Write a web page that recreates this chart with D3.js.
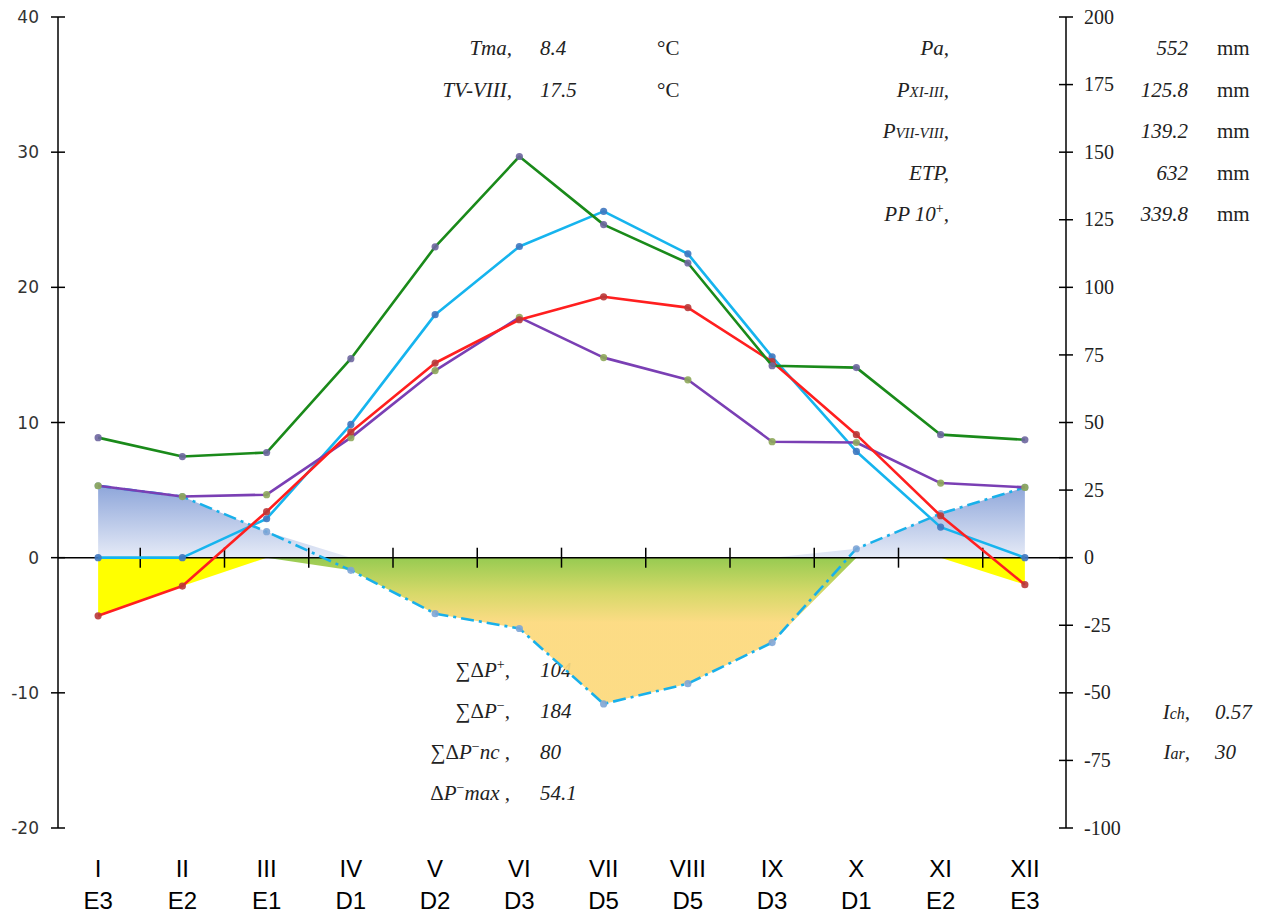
<!DOCTYPE html>
<html lang="ro">
  <head>
    <meta charset="UTF-8">
    <title>Climate diagram</title>
    <style>
body{
    margin: 0;
    background: #fff;
}
svg{
    display: block;
}
.serif{
    font-family: "Liberation Serif", "Times New Roman", Times, "DejaVu Serif", serif;
}
    </style>
  </head>
  <body>
    <script src="https://cdn.jsdelivr.net/npm/d3@7/dist/d3.min.js" charset="UTF-8"></script>
    <script>
// data
var months = ["I", "II", "III", "IV", "V", "VI", "VII", "VIII", "IX", "X", "XI", "XII"];
var classes = ["E3", "E2", "E1", "D1", "D2", "D3", "D5", "D5", "D3", "D1", "E2", "E3"];
var temp = [-4.3, -2.1, 3.4, 9.3, 14.4, 17.6, 19.3, 18.5, 14.5, 9.1, 3.1, -2.0];      // degC, left axis
var precip = [26.6, 22.6, 23.3, 44.4, 69.2, 88.9, 74.0, 65.8, 42.9, 42.6, 27.6, 26.0];  // mm
var etp = [0, 0, 14.4, 49.3, 89.9, 115.1, 128.1, 112.4, 74.3, 39.3, 11.3, 0];          // mm
var green = [44.4, 37.4, 38.9, 73.6, 115.0, 148.4, 123.2, 109.0, 71.0, 70.3, 45.5, 43.6]; // mm
var deltaP = [26.6, 22.6, 9.6, -4.7, -20.7, -26.2, -54.1, -46.6, -31.4, 3.3, 16.3, 26.0]; // mm

var tTicks = [40, 30, 20, 10, 0, -10, -20];
var pTicks = [200, 175, 150, 125, 100, 75, 50, 25, 0, -25, -50, -75, -100];

var width = 1271, height = 914;
var svg = d3.select("body").append("svg")
    .attr("width", width)
    .attr("height", height);

var x = d3.scaleBand().domain(months).range([56, 1067]);
var cx = function(i){ return x(months[i]) + x.bandwidth() / 2; };
var yT = d3.scaleLinear().domain([-20, 40]).range([828, 17]);
var yP = d3.scaleLinear().domain([-100, 200]).range([828, 17]);
var axL = 58, axR = 1066;

// gradients
var defs = svg.append("defs");
var gBlue = defs.append("linearGradient").attr("id", "gblue")
    .attr("gradientUnits", "userSpaceOnUse")
    .attr("x1", 0).attr("x2", 0).attr("y1", yP(26.6)).attr("y2", yP(0));
gBlue.append("stop").attr("offset", 0).attr("stop-color", "#8ea6da");
gBlue.append("stop").attr("offset", 1).attr("stop-color", "#e6ebf7");
var gDef = defs.append("linearGradient").attr("id", "gdef")
    .attr("gradientUnits", "userSpaceOnUse")
    .attr("x1", 0).attr("x2", 0).attr("y1", yP(0)).attr("y2", yP(-24));
gDef.append("stop").attr("offset", 0).attr("stop-color", "#8fc744");
gDef.append("stop").attr("offset", 0.55).attr("stop-color", "#d4d65e");
gDef.append("stop").attr("offset", 1).attr("stop-color", "#fcd97c");

// text blocks (drawn under the areas)
function label(xp, yp, anchor, parts, size){
    var t = svg.append("text")
        .attr("class", "serif")
        .attr("x", xp).attr("y", yp)
        .attr("text-anchor", anchor)
        .attr("font-size", size || 21)
        .attr("fill", "#222");
    parts.forEach(function(p){
        var s = t.append("tspan").text(p.t);
        if(p.i) s.attr("font-style", "italic");
        if(p.s) s.attr("font-size", p.s);
        if(p.dy) s.attr("dy", p.dy);
    });
    return t;
}

label(512, 55, "end", [{t: "Tma,", i: 1}]);
label(540, 55, "start", [{t: "8.4", i: 1}]);
label(657, 55, "start", [{t: "°C"}]);
label(512, 97, "end", [{t: "TV-VIII,", i: 1}]);
label(540, 97, "start", [{t: "17.5", i: 1}]);
label(657, 97, "start", [{t: "°C"}]);

var rightRows = [
    [[{t: "Pa,", i: 1}], "552"],
    [[{t: "P", i: 1}, {t: "XI-III", i: 1, s: 15}, {t: ",", i: 1}], "125.8"],
    [[{t: "P", i: 1}, {t: "VII-VIII", i: 1, s: 15}, {t: ",", i: 1}], "139.2"],
    [[{t: "ETP,", i: 1}], "632"],
    [[{t: "PP 10", i: 1}, {t: "+", s: 14, dy: -8}, {t: ",", i: 1, dy: 8}], "339.8"]
];
rightRows.forEach(function(r, i){
    var yy = 55 + i * 41.5;
    label(949, yy, "end", r[0]);
    label(1188, yy, "end", [{t: r[1], i: 1}]);
    label(1217, yy, "start", [{t: "mm"}]);
});

var bottomRows = [
    [[{t: "∑Δ"}, {t: "P", i: 1}, {t: "+", s: 14, dy: -8}, {t: ",", i: 1, dy: 8}], "104"],
    [[{t: "∑Δ"}, {t: "P", i: 1}, {t: "−", s: 14, dy: -8}, {t: ",", i: 1, dy: 8}], "184"],
    [[{t: "∑Δ"}, {t: "P", i: 1}, {t: "−", s: 14, dy: -8}, {t: "nc", i: 1, dy: 8}, {t: " ,", i: 1}], "80"],
    [[{t: "Δ"}, {t: "P", i: 1}, {t: "−", s: 14, dy: -8}, {t: "max", i: 1, dy: 8}, {t: " ,", i: 1}], "54.1"]
];
bottomRows.forEach(function(r, i){
    var yy = 677 + i * 41;
    label(510, yy, "end", r[0]);
    label(540, yy, "start", [{t: r[1], i: 1}]);
});

label(1190, 719, "end", [{t: "I", i: 1}, {t: "ch", i: 1, s: 16}, {t: ",", i: 1}]);
label(1215, 719, "start", [{t: "0.57", i: 1}]);
label(1190, 759, "end", [{t: "I", i: 1}, {t: "ar", i: 1, s: 16}, {t: ",", i: 1}]);
label(1215, 759, "start", [{t: "30", i: 1}]);

// areas
var idx = d3.range(months.length);
var surplus = d3.area()
    .x(function(i){ return cx(i); })
    .y0(yP(0))
    .y1(function(i){ return yP(Math.max(0, deltaP[i])); });
var deficit = d3.area()
    .x(function(i){ return cx(i); })
    .y0(yP(0))
    .y1(function(i){ return yP(Math.min(0, deltaP[i])); });
var frost = d3.area()
    .x(function(i){ return cx(i); })
    .y0(yT(0))
    .y1(function(i){ return yT(Math.min(0, temp[i])); });

svg.append("path").datum(idx).attr("d", surplus).attr("fill", "url(#gblue)");
svg.append("path").datum(idx).attr("d", frost).attr("fill", "#ffff00");
svg.append("path").datum(idx).attr("d", deficit).attr("fill", "url(#gdef)").attr("fill-opacity", 0.93);

// axes
var axisG = svg.append("g").attr("stroke", "#000").attr("stroke-width", 1.5);
axisG.append("line").attr("x1", axL).attr("x2", axL).attr("y1", yT(40)).attr("y2", yT(-20));
axisG.append("line").attr("x1", axR).attr("x2", axR).attr("y1", yP(200)).attr("y2", yP(-100));
axisG.append("line").attr("x1", axL).attr("x2", axR).attr("y1", yT(0)).attr("y2", yT(0));
axisG.selectAll("line.tl").data(tTicks).enter().append("line")
    .attr("x1", axL - 7).attr("x2", axL + 7)
    .attr("y1", function(d){ return yT(d); }).attr("y2", function(d){ return yT(d); });
axisG.selectAll("line.tr").data(pTicks).enter().append("line")
    .attr("x1", axR - 7).attr("x2", axR + 7)
    .attr("y1", function(d){ return yP(d); }).attr("y2", function(d){ return yP(d); });
axisG.selectAll("line.tx").data(months.slice(1)).enter().append("line")
    .attr("x1", function(d){ return x(d); }).attr("x2", function(d){ return x(d); })
    .attr("y1", yT(0) - 10).attr("y2", yT(0) + 10);

svg.selectAll("text.tl").data(tTicks).enter().append("text")
    .attr("x", 39).attr("y", function(d){ return yT(d); })
    .attr("dy", "0.36em")
    .attr("text-anchor", "end")
    .attr("font-family", "'DejaVu Sans', sans-serif")
    .attr("font-size", 17)
    .attr("fill", "#333")
    .text(function(d){ return d; });
svg.selectAll("text.tr").data(pTicks).enter().append("text")
    .attr("class", "serif")
    .attr("x", 1084).attr("y", function(d){ return yP(d); })
    .attr("dy", "0.33em")
    .attr("font-size", 20)
    .attr("fill", "#222")
    .text(function(d){ return d; });

svg.selectAll("text.m").data(months).enter().append("text")
    .attr("x", function(d, i){ return cx(i); }).attr("y", 877)
    .attr("text-anchor", "middle")
    .attr("font-family", "'Liberation Sans', Arial, sans-serif")
    .attr("font-size", 24)
    .text(function(d){ return d; });
svg.selectAll("text.c").data(classes).enter().append("text")
    .attr("x", function(d, i){ return cx(i); }).attr("y", 909)
    .attr("text-anchor", "middle")
    .attr("font-family", "'Liberation Sans', Arial, sans-serif")
    .attr("font-size", 24)
    .text(function(d){ return d; });

// lines and markers
function series(values, scale, color, marker, dash){
    var line = d3.line()
        .x(function(d, i){ return cx(i); })
        .y(function(d){ return scale(d); });
    var p = svg.append("path").datum(values)
        .attr("d", line)
        .attr("fill", "none")
        .attr("stroke", color)
        .attr("stroke-width", 2.6)
        .attr("stroke-linejoin", "round");
    if(dash) p.attr("stroke-dasharray", dash);
    svg.append("g").selectAll("circle").data(values).enter().append("circle")
        .attr("cx", function(d, i){ return cx(i); })
        .attr("cy", function(d){ return scale(d); })
        .attr("r", 3.6)
        .attr("fill", marker)
        .attr("fill-opacity", 0.9);
}

series(deltaP, yP, "#19b0ea", "#7ea5d6", "13,5,3,5");
series(etp, yP, "#16b4ee", "#3f77bf");
series(precip, yP, "#7a3fb4", "#8ea85a");
series(temp, yT, "#ff1f1f", "#b83838");
series(green, yP, "#1a8a1a", "#6e66a0");
    </script>
  </body>
</html>
